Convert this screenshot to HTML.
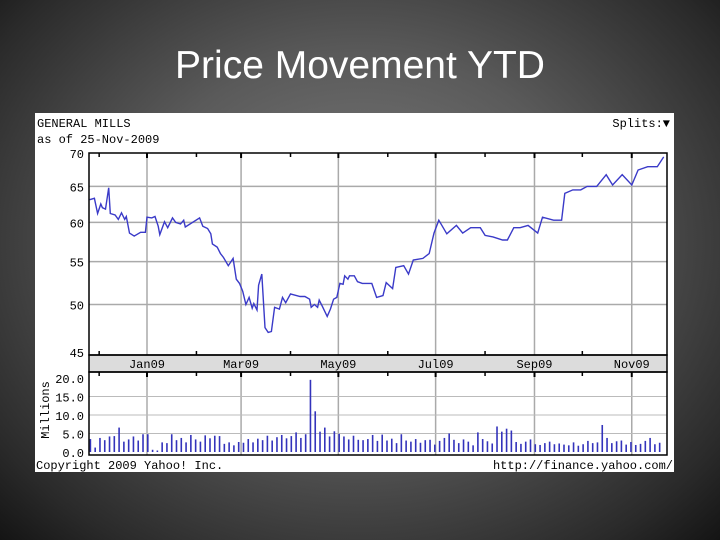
<!DOCTYPE html>
<html><head><meta charset="utf-8"><style>
html,body{margin:0;padding:0;}
body{width:720px;height:540px;overflow:hidden;background:radial-gradient(ellipse at 50% 45%,#7e7e7e 0%,#5a5a5a 45%,#2a2a2a 85%,#141414 100%);font-family:"Liberation Sans",sans-serif;}
#title{position:absolute;left:0;top:44px;width:720px;text-align:center;color:#fff;font-size:39px;}
svg{position:absolute;left:0;top:0;}
</style></head><body>
<div id="title">Price Movement YTD</div>
<svg id="c" width="720" height="540"></svg>
<script>
const days=[-36,-33,-31,-29,-28,-26,-24,-23,-20,-18,-16,-14,-13,-11,-8,-4,-1,0,3,5,7,8,11,13,16,18,21,23,24,33,35,38,40,41,44,46,48,51,54,56,58,60,62,64,66,67,69,70,72,74,76,78,80,83,85,87,90,96,99,102,103,105,107,108,110,113,115,117,119,121,123,124,126,127,130,132,135,141,144,148,150,154,156,161,164,167,173,177,180,183,188,194,198,203,209,212,217,223,226,230,234,239,245,248,255,260,262,267,272,276,282,288,292,298,304,308,314,320,324];
const prices=[63.1,63.3,61.2,62.5,62,61.8,64.8,61.2,61,60.4,61.3,60.4,60.8,58.6,58.2,58.7,58.7,60.7,60.6,60.8,59.5,58.4,60.1,59.3,60.6,60,59.8,60.3,59.4,60.6,59.5,59.2,58.5,57.2,56.8,56,55.5,54.5,55.4,52.9,52.4,51.5,50,50.8,49.6,50.1,49.4,52.2,53.5,47.5,47,47.1,49.7,49.5,50.8,50.2,51.2,50.9,50.9,50.6,49.7,50,49.7,50.5,49.8,48.7,49.5,50.6,50.8,52.4,52.3,53.3,52.9,53.3,53.3,52.6,52.4,52.4,50.8,51,52.5,51.8,54.3,54.5,53.5,55.2,55.4,56,58.6,60.3,58.5,59.6,58.6,59.3,59.3,58.3,58.1,57.7,57.7,59.3,59.3,59.6,58.6,60.7,60.3,60.3,64,64.5,64.5,65,65,66.7,65.2,66.7,65.2,67.4,67.9,67.9,69.4];
const volumes=[3.5,1.2,3.8,3.2,4.2,4.3,6.6,2.8,3.4,4.2,3.1,4.8,4.8,0.6,0.4,2.6,2.4,4.8,3.2,3.8,2.6,4.6,3.4,2.8,4.5,3.7,4.4,4.3,2.2,2.6,1.8,2.7,2.5,3.5,2.6,3.6,3.2,4.4,3.1,4.0,4.6,3.7,4.3,5.3,3.8,4.8,19.5,11,5.5,6.6,4.2,5.6,4.9,4.2,3.4,4.4,3.3,3.2,3.5,4.6,3.0,4.7,3.1,3.6,2.4,4.8,3.1,2.8,3.5,2.5,3.2,3.3,2.0,3.0,3.8,5.0,3.3,2.4,3.4,2.8,1.8,5.3,3.5,2.9,2.3,6.9,5.5,6.3,5.8,2.7,2.2,2.8,3.4,2.1,1.9,2.4,2.8,2.1,2.3,2.0,1.8,2.6,1.7,2.1,3.0,2.4,2.6,7.3,3.8,2.4,2.9,3.1,2.0,2.7,1.9,2.2,3.0,3.8,2.1,2.5];
const volStart=-36, volStep=3;
const priceTicks=[70,65,60,55,50,45];
const volTicks=[20,15,10,5,0];
const monthLabels=["Jan09","Mar09","May09","Jul09","Sep09","Nov09"];
const monthDays=[0,59,120,181,243,304];
const minorDays=[-30,31,90,151,212,273];

const NS="http://www.w3.org/2000/svg";
const svg=document.getElementById('c');
function mk(t,a,p){const e=document.createElementNS(NS,t);for(const k in a)e.setAttribute(k,a[k]);(p||svg).appendChild(e);return e;}
const X0=89,X1=667;
const xOf=d=>147+d*1.5946;
const yP=p=>153+(Math.log(70)-Math.log(p))/(Math.log(70)-Math.log(45))*199;
const yV=v=>452-v*3.7;
const mono='"Liberation Mono",monospace';

let r=mk('rect',{x:35,y:113,width:639,height:359,fill:'#fff'});

let t;
t=mk('text',{x:37,y:127,'font-family':mono,'font-size':12,fill:'#000'});t.textContent='GENERAL MILLS';

t=mk('text',{x:37,y:143,'font-family':mono,'font-size':12,fill:'#000'});t.textContent='as of 25-Nov-2009';

t=mk('text',{x:670,y:127,'font-family':mono,'font-size':12,fill:'#000','text-anchor':'end'});t.textContent='Splits:▼';


priceTicks.forEach(p=>{
  const y=yP(p);
  if(p<70&&p>45){const l=mk('line',{x1:X0,x2:X1,y1:y,y2:y,stroke:'#aaa','stroke-width':1.5});}
  const tx=mk('text',{x:84,y:y+5,'font-family':mono,'font-size':12,fill:'#000','text-anchor':'end'});tx.textContent=p;
  
});
monthDays.forEach(d=>{
  const x=xOf(d);
  let l=mk('line',{x1:x,x2:x,y1:153,y2:355,stroke:'#aaa','stroke-width':1.5});
  
  l=mk('line',{x1:x,x2:x,y1:372,y2:455,stroke:'#aaa','stroke-width':1.5});
  
  mk('line',{x1:x,x2:x,y1:153,y2:158,stroke:'#000','stroke-width':2});
  mk('line',{x1:x,x2:x,y1:372,y2:377,stroke:'#000','stroke-width':2});
});
minorDays.forEach(d=>{const x=xOf(d);mk('line',{x1:x,x2:x,y1:153,y2:157,stroke:'#000','stroke-width':1.5});mk('line',{x1:x,x2:x,y1:351,y2:355,stroke:'#000','stroke-width':1.5});mk('line',{x1:x,x2:x,y1:372,y2:376,stroke:'#000','stroke-width':1.5});});
volTicks.forEach(v=>{
  const y=yV(v);
  if(v>0&&v<20){const l=mk('line',{x1:X0,x2:X1,y1:y,y2:y,stroke:'#bbb','stroke-width':1});}
  const tx=mk('text',{x:84,y:y+5,'font-family':mono,'font-size':12,fill:'#000','text-anchor':'end'});tx.textContent=v.toFixed(1);
  
});
t=mk('text',{x:0,y:0,'font-family':mono,'font-size':12,fill:'#000','text-anchor':'middle',transform:'translate(49,410) rotate(-90)'});t.textContent='Millions';


r=mk('rect',{x:X0,y:355,width:X1-X0,height:17,fill:'#dcdcdc',stroke:'#000','stroke-width':1.5});

monthLabels.forEach((m,i)=>{const tx=mk('text',{x:xOf(monthDays[i]),y:368,'font-family':mono,'font-size':12,fill:'#000','text-anchor':'middle'});tx.textContent=m;
});

let d='';days.forEach((dd,i)=>{d+=(i?'L':'M')+xOf(dd).toFixed(1)+','+yP(prices[i]).toFixed(1);});
const pl=mk('path',{d:d,fill:'none',stroke:'#3a3ac8','stroke-width':1.4});


volumes.forEach((v,i)=>{const x=xOf(volStart+i*volStep);const b=mk('rect',{x:x,y:yV(v),width:1.6,height:452-yV(v),fill:'#3333bb'});
});

r=mk('rect',{x:X0,y:153,width:X1-X0,height:202,fill:'none',stroke:'#000','stroke-width':1.5});

r=mk('rect',{x:X0,y:372,width:X1-X0,height:83,fill:'none',stroke:'#000','stroke-width':1.5});


t=mk('text',{x:36,y:469,'font-family':mono,'font-size':12,fill:'#000'});t.textContent='Copyright 2009 Yahoo! Inc.';

t=mk('text',{x:673,y:469,'font-family':mono,'font-size':12,fill:'#000','text-anchor':'end'});t.textContent='http://finance.yahoo.com/';

</script>
</body></html>
